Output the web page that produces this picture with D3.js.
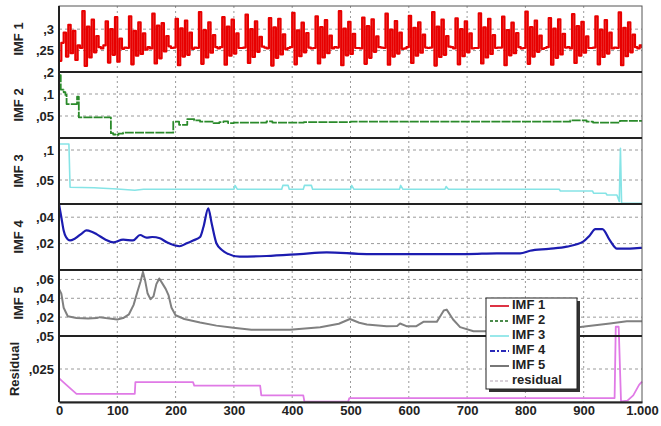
<!DOCTYPE html>
<html><head><meta charset="utf-8">
<script src="https://cdn.jsdelivr.net/npm/d3@7"></script>
<style>body{margin:0;background:#fff}</style></head>
<body><svg id="c" width="661" height="426"></svg>
<script>
// ---------- data ----------
const xTicks = [0,100,200,300,400,500,600,700,800,900,1000];
const panelNames = ["IMF 1","IMF 2","IMF 3","IMF 4","IMF 5","Residual"];
const legendNames = ["IMF 1","IMF 2","IMF 3","IMF 4","IMF 5","residual"];
const yTicks1 = [0.2,0.25,0.3];
const yTicks2 = [0.05,0.1];
const yTicks3 = [0.05,0.1];
const yTicks4 = [0.02,0.04];
const yTicks5 = [0.02,0.04,0.06];
const yTicks6 = [0.025,0.05];

// IMF 1 sampled every 4 units
const imf1Step = 4;
const imf1 = [
0.226,0.268,0.292,0.236,0.310,0.244,0.296,0.228,0.262,0.256,
0.342,0.214,0.306,0.234,0.322,0.246,0.284,0.258,0.255,0.262,
0.318,0.222,0.300,0.240,0.328,0.224,0.278,0.254,0.257,0.256,
0.330,0.218,0.296,0.238,0.316,0.242,0.290,0.252,0.258,0.255,
0.336,0.220,0.308,0.232,0.314,0.248,0.284,0.260,0.256,0.257,
0.324,0.216,0.302,0.236,0.320,0.240,0.292,0.254,0.257,0.256,
0.340,0.219,0.298,0.234,0.316,0.245,0.286,0.258,0.255,0.258,
0.328,0.217,0.306,0.238,0.322,0.243,0.290,0.256,0.256,0.257,
0.334,0.221,0.300,0.235,0.318,0.247,0.282,0.259,0.257,0.255,
0.326,0.215,0.304,0.233,0.324,0.241,0.288,0.253,0.256,0.258,
0.338,0.218,0.297,0.237,0.315,0.246,0.291,0.257,0.255,0.256,
0.330,0.220,0.305,0.234,0.321,0.244,0.285,0.255,0.258,0.257,
0.342,0.216,0.301,0.239,0.317,0.242,0.289,0.256,0.256,0.255,
0.327,0.219,0.307,0.233,0.323,0.247,0.283,0.258,0.257,0.256,
0.336,0.217,0.299,0.236,0.319,0.243,0.292,0.254,0.255,0.258,
0.331,0.221,0.303,0.238,0.316,0.245,0.287,0.257,0.256,0.257,
0.340,0.215,0.306,0.235,0.322,0.240,0.284,0.259,0.258,0.255,
0.325,0.218,0.300,0.237,0.318,0.246,0.290,0.255,0.256,0.256,
0.337,0.220,0.304,0.234,0.324,0.242,0.286,0.256,0.257,0.257,
0.329,0.216,0.298,0.239,0.315,0.244,0.291,0.258,0.255,0.256,
0.341,0.219,0.305,0.236,0.320,0.247,0.285,0.254,0.256,0.258,
0.326,0.217,0.301,0.233,0.323,0.241,0.289,0.257,0.258,0.255,
0.335,0.221,0.307,0.238,0.317,0.245,0.283,0.256,0.256,0.257,
0.330,0.218,0.299,0.235,0.321,0.243,0.292,0.255,0.257,0.256,
0.339,0.216,0.303,0.237,0.316,0.246,0.287,0.258,0.255,0.262,
0.256];

const imf2 = [[0,0.143],[3,0.11],[8,0.104],[11,0.098],[13,0.077],[29,0.077],[31,0.094],[33,0.094],[34,0.047],[87,0.047],[89,0.011],[93,0.008],[97,0.007],[102,0.010],[110,0.012],[193,0.012],[196,0.037],[204,0.037],[206,0.030],[215,0.030],[220,0.043],[232,0.040],[242,0.037],[265,0.034],[275,0.036],[282,0.038],[290,0.034],[300,0.035],[356,0.038],[366,0.035],[420,0.036],[500,0.037],[877,0.040],[905,0.037],[916,0.035],[957,0.035],[962,0.039],[1000,0.039]];

const imf3 = [[0,0.11],[17,0.11],[19,0.038],[60,0.037],[100,0.035],[130,0.033],[145,0.0345],[300,0.0345],[302,0.041],[306,0.0345],[382,0.0345],[384,0.041],[393,0.041],[395,0.0345],[419,0.0345],[421,0.041],[433,0.041],[435,0.0345],[500,0.0345],[502,0.041],[506,0.0345],[584,0.0345],[586,0.041],[590,0.0345],[662,0.0345],[664,0.039],[668,0.0345],[858,0.0345],[860,0.0317],[915,0.0317],[917,0.028],[938,0.028],[940,0.025],[957,0.025],[961,0.014],[963,0.103],[965,0.011],[1000,0.011]];

const imf4 = [[0,0.05],[4,0.04],[8,0.03],[12,0.025],[19,0.0224],[27,0.0237],[40,0.028],[47,0.030],[56,0.029],[65,0.027],[80,0.023],[93,0.021],[110,0.023],[127,0.0224],[139,0.0265],[150,0.0245],[160,0.025],[173,0.024],[185,0.021],[207,0.018],[218,0.020],[230,0.0224],[242,0.025],[248,0.033],[256,0.0467],[262,0.035],[270,0.0203],[280,0.015],[288,0.0126],[310,0.0101],[356,0.0106],[413,0.0121],[459,0.0134],[528,0.0121],[654,0.0121],[700,0.0121],[751,0.0126],[791,0.0126],[808,0.0146],[840,0.016],[871,0.0177],[899,0.0215],[910,0.026],[920,0.031],[932,0.031],[945,0.0224],[957,0.0162],[975,0.0162],[997,0.0167],[1000,0.0167]];

const imf5 = [[0,0.05],[4,0.045],[8,0.03],[15,0.021],[30,0.019],[50,0.0185],[65,0.019],[70,0.020],[80,0.019],[100,0.0175],[110,0.019],[120,0.023],[128,0.033],[135,0.048],[140,0.058],[144,0.068],[148,0.058],[152,0.045],[157,0.039],[162,0.042],[167,0.055],[172,0.061],[178,0.055],[183,0.05],[188,0.043],[193,0.03],[200,0.022],[215,0.018],[242,0.0143],[270,0.011],[299,0.0087],[330,0.0066],[396,0.0066],[448,0.0093],[480,0.013],[499,0.018],[515,0.014],[528,0.0122],[562,0.0104],[580,0.0107],[585,0.0133],[596,0.0104],[613,0.0104],[625,0.015],[648,0.015],[655,0.022],[660,0.027],[665,0.028],[676,0.0175],[688,0.0094],[711,0.005],[780,0.005],[860,0.007],[905,0.0104],[945,0.0133],[974,0.0157],[1000,0.0157]];

const residual = [[0,0.018],[5,0.016],[15,0.012],[30,0.0062],[130,0.0062],[131,0.015],[230,0.015],[232,0.0124],[345,0.0124],[347,0.005],[419,0.005],[421,0.0003],[496,0.0003],[498,0.003],[953,0.003],[955,0.057],[960,0.057],[964,0.0005],[975,0.001],[985,0.005],[995,0.013],[1000,0.0155]];

// ---------- layout ----------
const svg = d3.select("#c");
const L = 59, R = 642, T = 6, PH = 66;
const font = "'Liberation Sans', Arial, sans-serif";
const colors = ["#e80000","#2a8a2a","#86e4e6","#1c1cb0","#808080","#e07ae6"];
const domains = [[0.2,0.354],[0,0.15],[0.01,0.12],[0,0.05],[0,0.07],[0,0.05]];
const tickSets = [yTicks1,yTicks2,yTicks3,yTicks4,yTicks5,yTicks6];
const loc = d3.formatLocale({decimal:",", thousands:".", grouping:[3], currency:["",""]});
const yFmt = d => loc.format("~g")(d).replace(/^0/, "");
const x = d3.scaleLinear().domain([0,1000]).range([L,R]);

const series = [
  imf1.map((v,i)=>[i*imf1Step, v]), imf2, imf3, imf4, imf5, residual
];
const curves = [d3.curveStepAfter, d3.curveStepAfter, d3.curveLinear, d3.curveMonotoneX, d3.curveLinear, d3.curveLinear];
const dashes = [null, "9,1.2", null, null, null, null];
const widths = [2.2, 1.8, 1.6, 2.2, 2, 1.8];

svg.append("rect").attr("x",L).attr("y",T).attr("width",R-L).attr("height",PH*6).attr("fill","#fff");

const defs = svg.append("defs");
const ys = [];
panelNames.forEach((name,i) => {
  const top = T + i*PH;
  const y = d3.scaleLinear().domain(domains[i]).range([top+PH, top]);
  ys.push(y);
  defs.append("clipPath").attr("id","clip"+i).append("rect")
    .attr("x",L).attr("y",top).attr("width",R-L).attr("height",PH);
  svg.append("g").selectAll("line")
    .data(tickSets[i].filter(t => y(t) > top+1 && y(t) < top+PH-1))
    .join("line")
    .attr("x1",L).attr("x2",R).attr("y1",d=>y(d)).attr("y2",d=>y(d))
    .attr("stroke","#9a9a9a").attr("stroke-width",1).attr("stroke-dasharray","3,3");
  const ax = svg.append("g").attr("transform",`translate(${L},0)`)
    .call(d3.axisLeft(y).tickValues(tickSets[i]).tickSize(0).tickPadding(5).tickFormat(yFmt));
  ax.select(".domain").remove();
  ax.selectAll("text").attr("font-family",font).attr("font-size",13).attr("font-weight","bold").attr("fill","#222");
  svg.append("text")
    .attr("transform",`translate(${i===5?16:20},${top+PH/2}) rotate(-90)`)
    .attr("text-anchor","middle").attr("dominant-baseline","middle")
    .attr("font-family",font).attr("font-size",13).attr("font-weight","bold").attr("fill","#222")
    .text(name);
});

svg.append("g").selectAll("line").data(xTicks.slice(1,-1)).join("line")
  .attr("x1",d=>x(d)).attr("x2",d=>x(d)).attr("y1",T).attr("y2",T+PH*6)
  .attr("stroke","#9a9a9a").attr("stroke-width",1).attr("stroke-dasharray","2,3");

series.forEach((s,i) => {
  const y = ys[i];
  const line = d3.line().x(d=>x(d[0])).y(d=>y(d[1])).curve(curves[i]);
  const p = svg.append("path").datum(s).attr("d",line)
    .attr("fill","none").attr("stroke",colors[i]).attr("stroke-width",widths[i])
    .attr("stroke-linejoin","round");
  if (dashes[i]) p.attr("stroke-dasharray",dashes[i]);
  if (i !== 5) p.attr("clip-path",`url(#clip${i})`);
});

svg.append("rect").attr("x",L).attr("y",T).attr("width",R-L).attr("height",PH*6)
  .attr("fill","none").attr("stroke","#555").attr("stroke-width",1);
svg.append("g").selectAll("line").data([1,2,3,4,5]).join("line")
  .attr("x1",L).attr("x2",R).attr("y1",d=>T+d*PH).attr("y2",d=>T+d*PH)
  .attr("stroke","#222").attr("stroke-width",2);
svg.append("line").attr("x1",L).attr("x2",L).attr("y1",T).attr("y2",T+PH*6)
  .attr("stroke","#222").attr("stroke-width",2);

const xa = svg.append("g").attr("transform",`translate(0,${T+PH*6})`)
  .call(d3.axisBottom(x).tickValues(xTicks).tickSize(0).tickPadding(4).tickFormat(loc.format(",")));
xa.select(".domain").attr("stroke","#222").attr("stroke-width",2);
xa.selectAll("text").attr("font-family",font).attr("font-size",13).attr("font-weight","bold").attr("fill","#222");

const lg = svg.append("g").attr("transform","translate(486,298)");
lg.append("rect").attr("x",3).attr("y",3).attr("width",91).attr("height",91).attr("fill","#333");
lg.append("rect").attr("width",91).attr("height",91).attr("fill","#fff").attr("stroke","#222").attr("stroke-width",1);
const legColors = ["#dd3344","#4a8a4a","#99e8ea","#2a2ab8","#777","#d8d0d8"];
const legDash = [null,"3,2",null,"5,2,2,2",null,"3,2"];
legendNames.forEach((n,i) => {
  const yy = 8 + i*15;
  const l = lg.append("line").attr("x1",4).attr("x2",23).attr("y1",yy).attr("y2",yy)
    .attr("stroke",legColors[i]).attr("stroke-width",2);
  if (legDash[i]) l.attr("stroke-dasharray",legDash[i]);
  lg.append("text").attr("x",26).attr("y",yy).attr("dominant-baseline","middle")
    .attr("font-family",font).attr("font-size",13).attr("font-weight","bold").attr("fill","#222").text(n);
});
</script>
</body></html>
